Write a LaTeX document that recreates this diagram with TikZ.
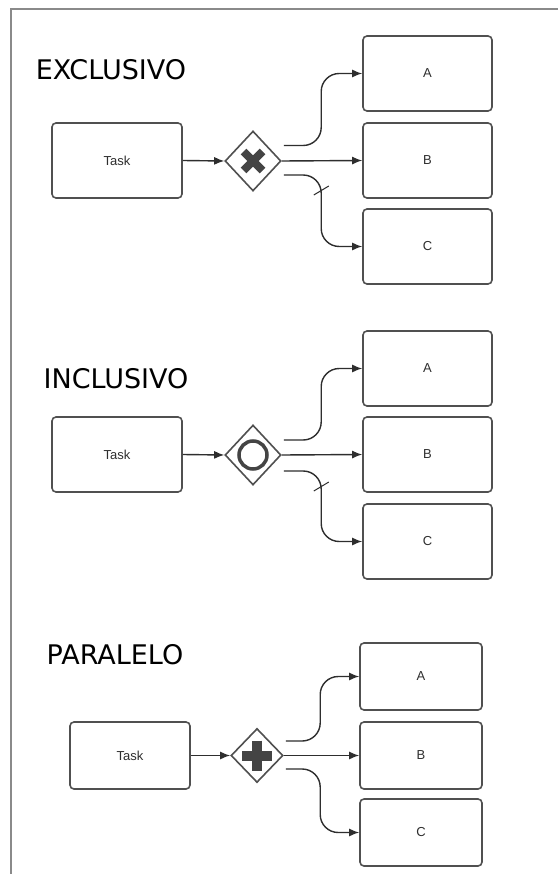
\documentclass[tikz,border=0pt]{standalone}
\usepackage{fontspec}
\setmainfont{Liberation Sans}
\newfontfamily\titlefont{DejaVu Sans}
\usetikzlibrary{shapes.geometric,arrows.meta,calc}
\definecolor{boxgray}{HTML}{505050}
\definecolor{linegray}{HTML}{2E2E2E}
\definecolor{markgray}{HTML}{444444}
\definecolor{framegray}{HTML}{8A8A8A}
\tikzset{
  taskbox/.style={draw=boxgray, line width=1.6pt, rounded corners=4pt, inner sep=0pt, text=linegray, font=\fontsize{13}{15}\selectfont},
  gatebox/.style={diamond, draw=boxgray, line width=1.6pt, inner sep=0pt},
  flow/.style={draw=linegray, line width=1.4pt, -{Latex[length=10pt,width=8pt]}},
  branch/.style={flow, rounded corners=18pt},
  title/.style={font=\titlefont\fontsize{27}{30}\selectfont, text=black, anchor=center},
  tickmark/.style={draw=linegray, line width=1pt}
}
\begin{document}
\begin{tikzpicture}[x=1pt,y=-1pt]
\useasboundingbox (0,0) rectangle (558,874);
\fill[white] (0,0) rectangle (558,874);
% frame
\draw[framegray, line width=1.5pt] (11,874) -- (11,9) -- (558,9);

% ---------- EXCLUSIVO ----------
\node[title] (t1) at (111,70) {EXCLUSIVO};
\node[taskbox, minimum width=130pt, minimum height=75pt] (task1) at (117,160.5) {Task};
\node[gatebox, minimum width=56pt, minimum height=60pt] (g1) at (253,161) {};
\node[taskbox, minimum width=129pt, minimum height=75pt] (A1) at (427.5,73.5) {A};
\node[taskbox, minimum width=129pt, minimum height=75pt] (B1) at (427.5,160.5) {B};
\node[taskbox, minimum width=129pt, minimum height=75pt] (C1) at (427.5,246.5) {C};
\draw[markgray, line width=8pt] ($(g1.center)+(-9.5,-9.5)$) -- ($(g1.center)+(9.5,9.5)$);
\draw[markgray, line width=8pt] ($(g1.center)+(-9.5,9.5)$) -- ($(g1.center)+(9.5,-9.5)$);
\draw[flow] (task1.east) -- (g1.west);
\draw[flow] (g1.east) -- (B1.west);
\coordinate (g1u) at ($(g1.east)+(2,-15.5)$);
\coordinate (g1d) at ($(g1.east)+(2,14)$);
\draw[branch] (g1u) -| ($(A1.west)+(-41,0)$) -- (A1.west);
\draw[branch] (g1d) -| ($(C1.west)+(-41,0)$) -- (C1.west);
\draw[tickmark] ($(g1d)+(30,20)$) -- ($(g1d)+(45,11)$);

% ---------- INCLUSIVO ----------
\node[title] (t2) at (116,379) {INCLUSIVO};
\node[taskbox, minimum width=130pt, minimum height=75pt] (task2) at (117,454.5) {Task};
\node[gatebox, minimum width=56pt, minimum height=60pt] (g2) at (253,455) {};
\node[taskbox, minimum width=129pt, minimum height=75pt] (A2) at (427.5,368.5) {A};
\node[taskbox, minimum width=129pt, minimum height=75pt] (B2) at (427.5,454.5) {B};
\node[taskbox, minimum width=129pt, minimum height=75pt] (C2) at (427.5,541.5) {C};
\draw[markgray, line width=3.5pt] (g2.center) circle (14pt);
\draw[flow] (task2.east) -- (g2.west);
\draw[flow] (g2.east) -- (B2.west);
\coordinate (g2u) at ($(g2.east)+(2,-15)$);
\coordinate (g2d) at ($(g2.east)+(2,16)$);
\draw[branch] (g2u) -| ($(A2.west)+(-41,0)$) -- (A2.west);
\draw[branch] (g2d) -| ($(C2.west)+(-41,0)$) -- (C2.west);
\draw[tickmark] ($(g2d)+(30,20)$) -- ($(g2d)+(45,11)$);

% ---------- PARALELO ----------
\node[title] (t3) at (115,655) {PARALELO};
\node[taskbox, minimum width=120pt, minimum height=67pt] (task3) at (130,755.5) {Task};
\node[gatebox, minimum width=52pt, minimum height=54pt] (g3) at (257,755.5) {};
\node[taskbox, minimum width=122pt, minimum height=67pt] (A3) at (421,676.5) {A};
\node[taskbox, minimum width=122pt, minimum height=67pt] (B3) at (421,755.5) {B};
\node[taskbox, minimum width=122pt, minimum height=67pt] (C3) at (421,832.5) {C};
\draw[markgray, line width=10pt] ($(g3.center)+(-15,0)$) -- ($(g3.center)+(15,0)$);
\draw[markgray, line width=10pt] ($(g3.center)+(0,-15)$) -- ($(g3.center)+(0,15)$);
\draw[flow] (task3.east) -- (g3.west);
\draw[flow] (g3.east) -- (B3.west);
\coordinate (g3u) at ($(g3.east)+(2,-14.5)$);
\coordinate (g3d) at ($(g3.east)+(2,13.5)$);
\draw[branch] (g3u) -| ($(A3.west)+(-39,0)$) -- (A3.west);
\draw[branch] (g3d) -| ($(C3.west)+(-39,0)$) -- (C3.west);
\end{tikzpicture}
\end{document}
